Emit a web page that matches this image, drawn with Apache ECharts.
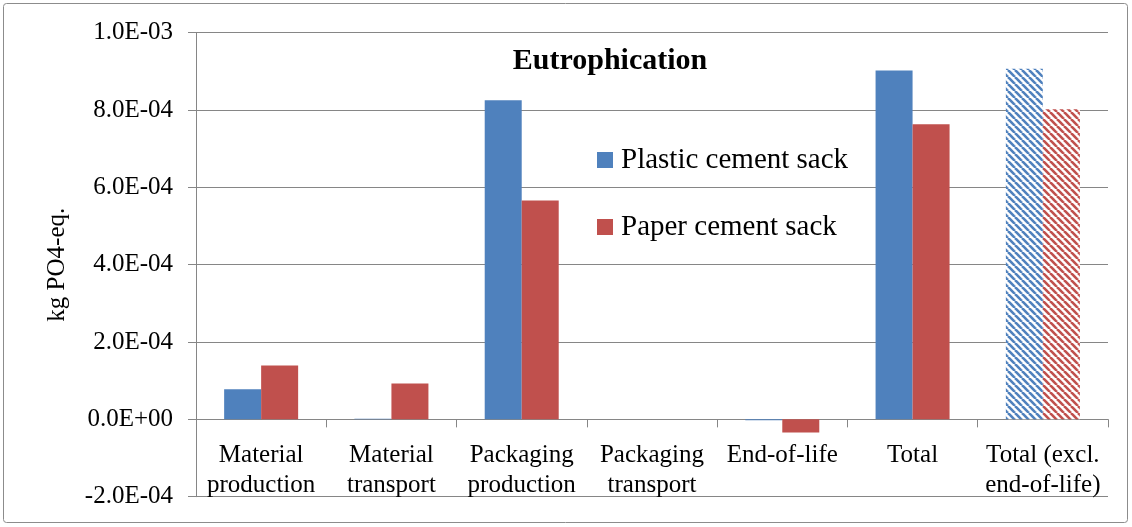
<!DOCTYPE html>
<html>
<head>
<meta charset="utf-8">
<script src="https://cdn.jsdelivr.net/npm/echarts@6/dist/echarts.min.js"></script>
<style>
html,body{margin:0;padding:0;background:#fff;}
#chart{width:1132px;height:527px;}
</style>
</head>
<body>
<div id="chart"></div>
<script>
const categories = ['Material\nproduction','Material\ntransport','Packaging\nproduction','Packaging\ntransport','End-of-life','Total','Total (excl.\nend-of-life)'];
const plastic = [7.8e-5, 1.5e-6, 8.25e-4, 0, -2e-6, 9.02e-4, 9.07e-4];
const paper   = [1.39e-4, 9.3e-5, 5.66e-4, 0, -3.4e-5, 7.63e-4, 8.02e-4];
const seriesNames = ['Plastic cement sack','Paper cement sack'];
const titleText = 'Eutrophication';
const yAxisName = 'kg PO4-eq.';
const yMin = -2e-4, yMax = 1e-3, yStep = 2e-4;
const hatchedIndex = 6;

const FONT = '"Liberation Serif", "DejaVu Serif", serif';
const BLUE = '#4F81BD', RED = '#C0504D', GRID = '#868686';
const W = 1132, H = 527;
const gridTop = 32.7, gridBottom = 30.3, gridLeft = 196, gridRight = 24;
const plotH = H - gridTop - gridBottom;
// put the category axis line at value 0 of the value scale
const zeroOffset = -plotH * (0 - yMin) / (yMax - yMin);

function stripePattern(col){
  const s = 7;
  const c = document.createElement('canvas');
  c.width = s; c.height = s;
  const g = c.getContext('2d');
  g.fillStyle = '#ffffff';
  g.fillRect(0,0,s,s);
  g.strokeStyle = col;
  g.lineWidth = 2.6;
  for (let k=-1;k<=1;k++){
    g.beginPath();
    g.moveTo(k*s, 0);
    g.lineTo(k*s + s, s);
    g.stroke();
  }
  return {image: c, repeat: 'repeat'};
}

function fmtExp(v){
  if (Math.abs(v) < 1e-12) return '0.0E+00';
  const s = v.toExponential(1).toUpperCase();
  const m = s.match(/^(-?[\d.]+)E([+-])(\d+)$/);
  return m[1] + 'E' + m[2] + (m[3].length<2 ? '0'+m[3] : m[3]);
}

function mk(vals, col){
  return vals.map((v,i)=> i===hatchedIndex ? {value:v, itemStyle:{color: stripePattern(col)}} : v);
}

const chart = echarts.init(document.getElementById('chart'), null, {renderer:'canvas'});
chart.setOption({
  animation:false,
  textStyle:{fontFamily:FONT},
  title:{text:titleText, left:605, top:41, textAlign:'center',
    textStyle:{fontFamily:FONT, fontWeight:'bold', fontSize:30, color:'#000'}},
  graphic:[{type:'rect', shape:{x:3.5,y:3.5,width:1124,height:519,r:3},
    style:{fill:null, stroke:'#8c8c8c', lineWidth:1}, silent:true, z:-1}],
  legend:{orient:'vertical', left:592, top:140, itemGap:37, itemWidth:16, itemHeight:16,
    icon:'rect', data:seriesNames,
    textStyle:{fontFamily:FONT, fontSize:29, lineHeight:30, color:'#000', padding:[0,0,0,3]}},
  grid:{left:gridLeft, right:gridRight, top:gridTop, bottom:gridBottom, outerBoundsMode:'none', containLabel:false},
  xAxis:{type:'category', data:categories, position:'bottom', offset:zeroOffset,
    axisLine:{onZero:false, lineStyle:{color:GRID, width:1}},
    axisTick:{show:true, length:8, lineStyle:{color:GRID}},
    axisLabel:{fontFamily:FONT, fontSize:25, color:'#000', margin:21, lineHeight:30, interval:0}},
  yAxis:{type:'value', min:yMin, max:yMax, interval:yStep,
    name:yAxisName, nameLocation:'middle', nameGap:126, nameRotate:90,
    nameTextStyle:{fontFamily:FONT, fontSize:25, color:'#000'},
    axisLine:{show:true, lineStyle:{color:GRID}},
    axisTick:{show:true, length:8, lineStyle:{color:GRID}},
    splitLine:{show:true, lineStyle:{color:GRID, width:1}},
    axisLabel:{fontFamily:FONT, fontSize:25, color:'#000', margin:23, formatter:fmtExp}},
  series:[
    {name:seriesNames[0], type:'bar', data:mk(plastic, BLUE), barWidth:37, barGap:'0%',
      itemStyle:{color:BLUE}},
    {name:seriesNames[1], type:'bar', data:mk(paper, RED), barWidth:37, barGap:'0%',
      itemStyle:{color:RED}}
  ]
});
</script>
</body>
</html>
